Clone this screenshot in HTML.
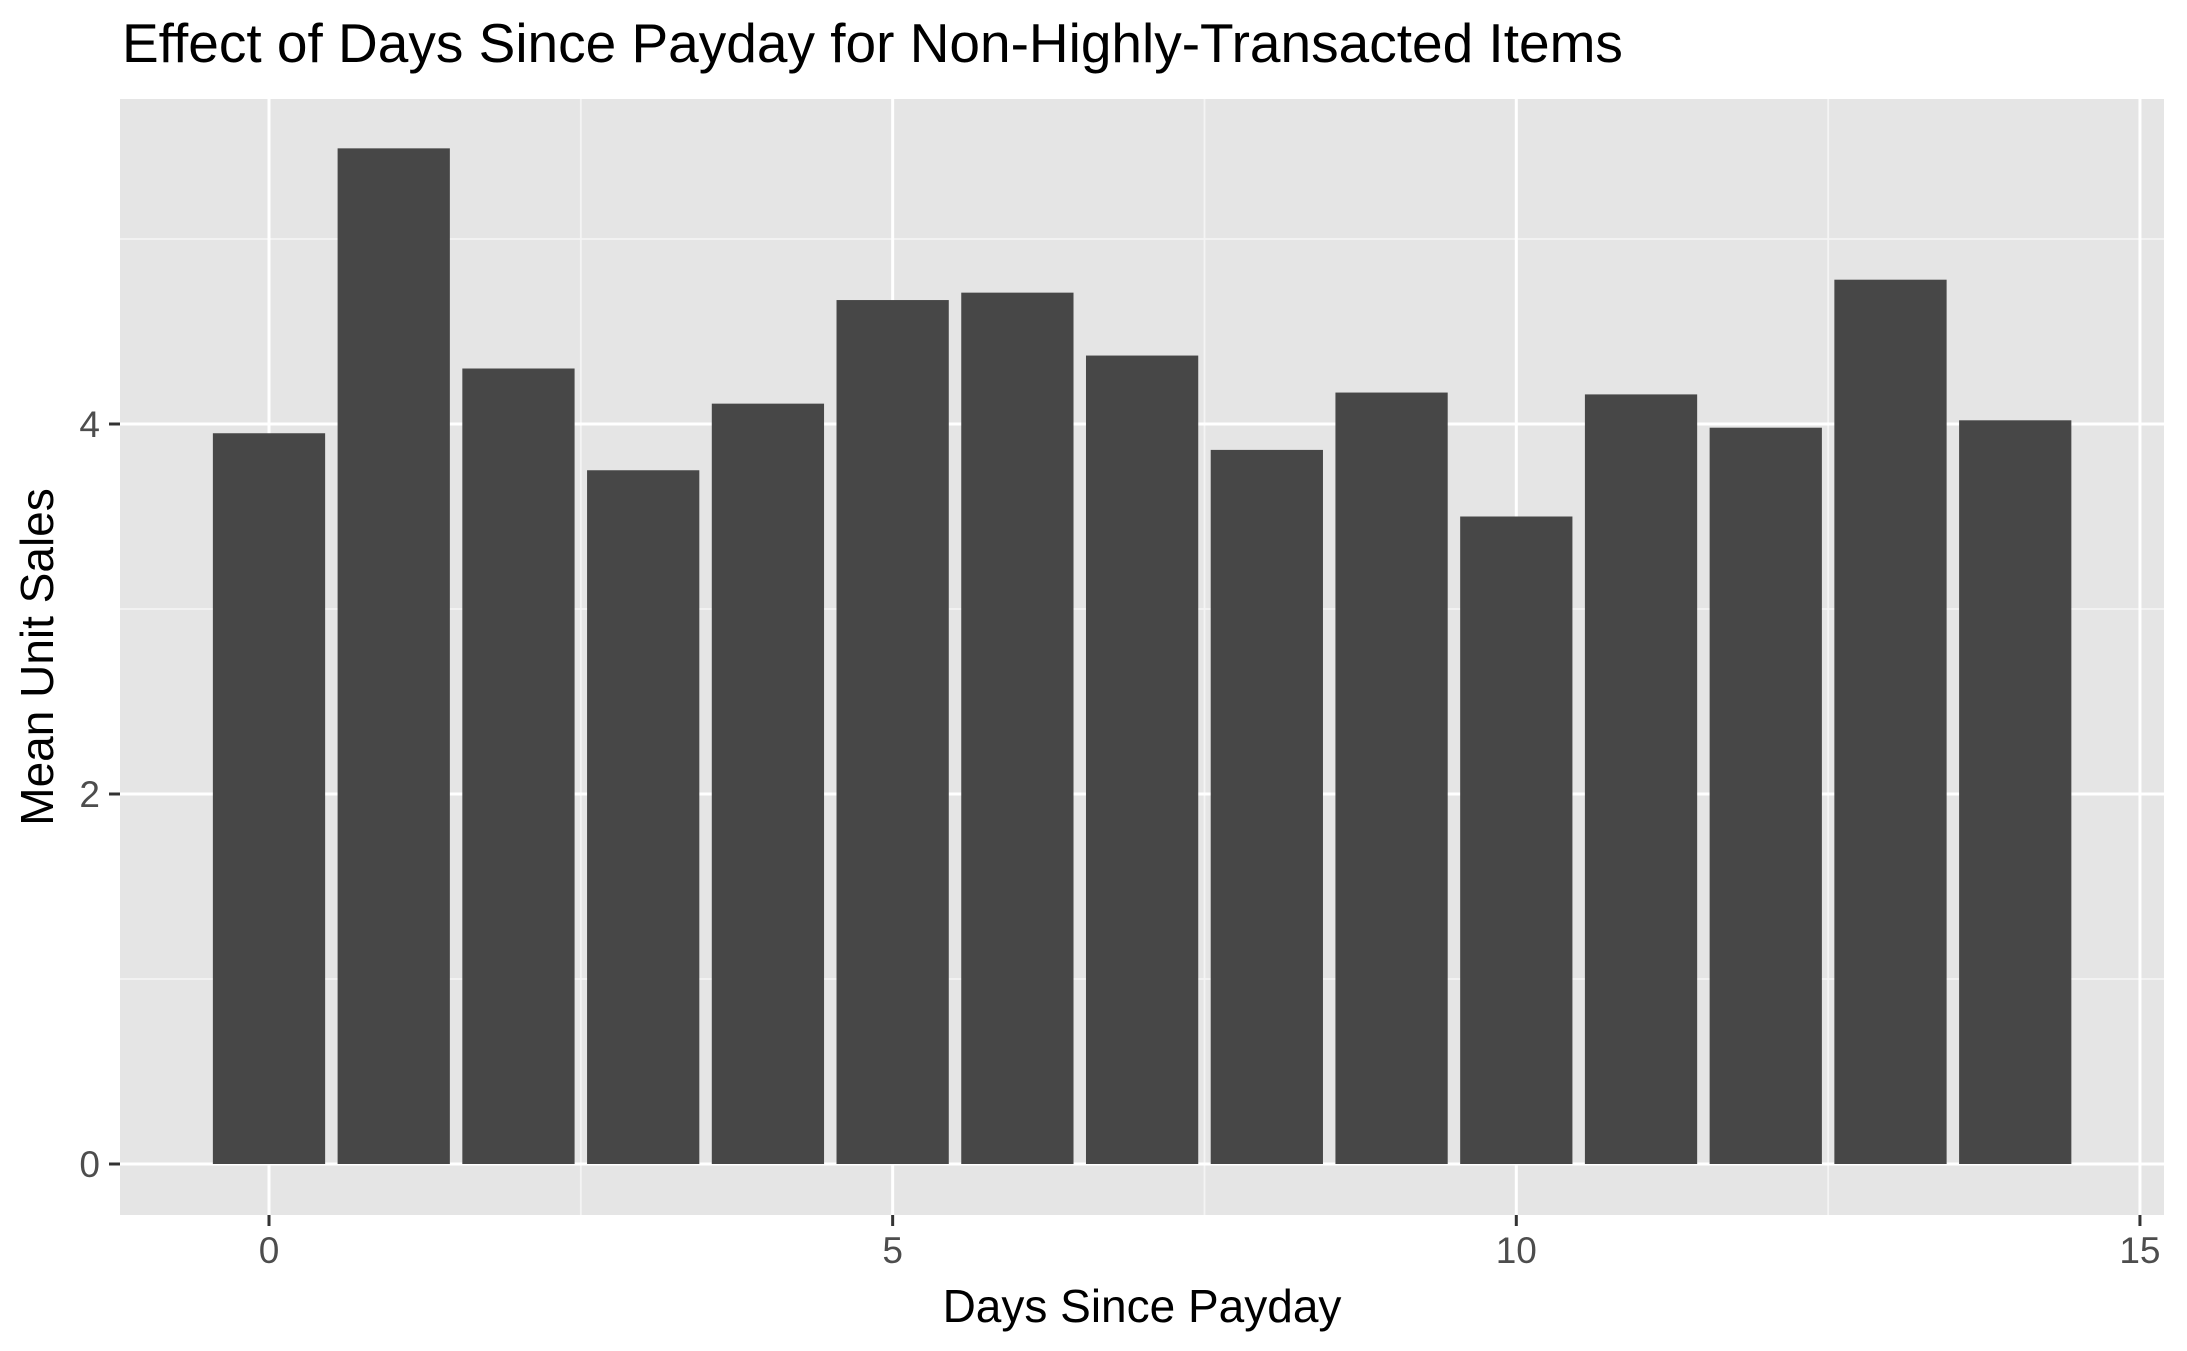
<!DOCTYPE html>
<html><head><meta charset="utf-8"><style>
html,body{margin:0;padding:0;background:#fff;}
svg{display:block;font-family:"Liberation Sans",Arial,sans-serif;}
</style></head><body>
<svg id="chart" width="2187" height="1351" viewBox="0 0 2187 1351" xmlns="http://www.w3.org/2000/svg">
<text x="122" y="62" font-size="55" fill="#000">Effect of Days Since Payday for Non-Highly-Transacted Items</text>
<rect x="120" y="99" width="2044" height="1116" fill="#e5e5e5"/>
<g id="grid"></g>
<g id="bars"></g>
<g id="axes"></g>
<text x="1142" y="1322" font-size="46" text-anchor="middle" fill="#000">Days Since Payday</text>
<text transform="translate(53,657) rotate(-90)" font-size="46" text-anchor="middle" fill="#000">Mean Unit Sales</text>
</svg>
<script>
const days = [0,1,2,3,4,5,6,7,8,9,10,11,12,13,14];
const meanSales = [3.95,5.49,4.30,3.75,4.11,4.67,4.71,4.37,3.86,4.17,3.50,4.16,3.98,4.78,4.02];
const xTicks = [0,5,10,15];
const xMinor = [2.5,7.5,12.5];
const yTicks = [0,2,4];
const yMinor = [1,3,5];

const NS = "http://www.w3.org/2000/svg";
const PL = 120, PR = 2164, PT = 99, PB = 1215;
const x = v => 269 + v * 124.73;
const y = v => 1164 - v * 185;
function mk(tag, attrs, parent){ const e=document.createElementNS(NS,tag); for(const k in attrs) e.setAttribute(k,attrs[k]); parent.appendChild(e); return e; }
const grid = document.getElementById('grid'), barsG = document.getElementById('bars'), axes = document.getElementById('axes');

yMinor.forEach(v=>{ const l=mk('line',{x1:PL,x2:PR,y1:y(v),y2:y(v),stroke:'#f4f4f4','stroke-width':1.8},grid);

 });
xMinor.forEach(v=>{ const l=mk('line',{x1:x(v),x2:x(v),y1:PT,y2:PB,stroke:'#f4f4f4','stroke-width':1.8},grid);

 });
yTicks.forEach(v=>{ const l=mk('line',{x1:PL,x2:PR,y1:y(v),y2:y(v),stroke:'#fff','stroke-width':3},grid);


const t=mk('line',{x1:PL-11,x2:PL,y1:y(v),y2:y(v),stroke:'#333','stroke-width':3},axes);


const tx=mk('text',{x:PL-20,y:y(v)+13,'font-size':37,'text-anchor':'end',fill:'#4d4d4d'},axes); tx.textContent=v;

 });
xTicks.forEach(v=>{ const l=mk('line',{x1:x(v),x2:x(v),y1:PT,y2:PB,stroke:'#fff','stroke-width':3},grid);


const t=mk('line',{x1:x(v),x2:x(v),y1:PB,y2:PB+11,stroke:'#333','stroke-width':3},axes);


const tx=mk('text',{x:x(v),y:1263,'font-size':37,'text-anchor':'middle',fill:'#4d4d4d'},axes); tx.textContent=v;

 });
days.forEach((d,i)=>{ const w=0.9*124.73;
const b=mk('rect',{x:x(d)-w/2,y:y(meanSales[i]),width:w,height:y(0)-y(meanSales[i]),fill:'#474747'},barsG);

 });
</script>
</body></html>
